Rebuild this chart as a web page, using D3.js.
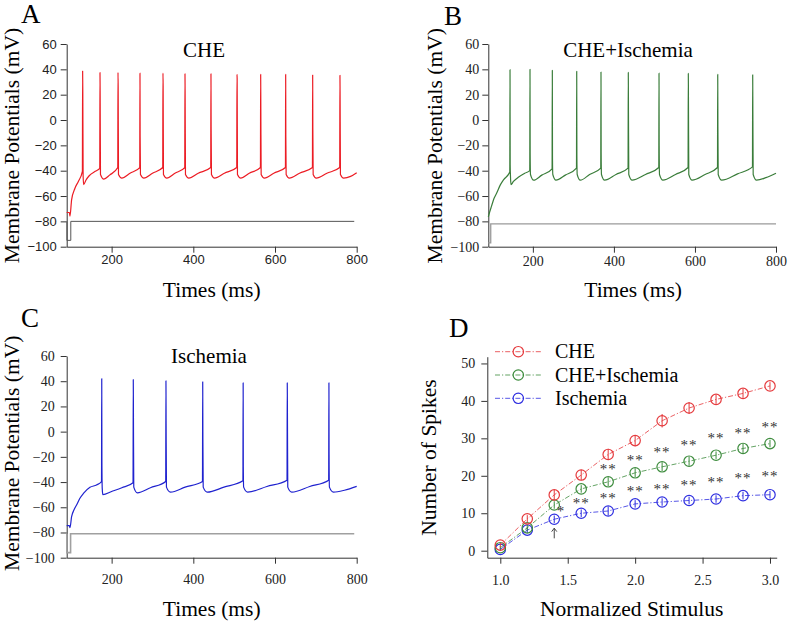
<!DOCTYPE html>
<html><head><meta charset="utf-8">
<script src="https://cdn.jsdelivr.net/npm/d3@7"></script>
<style>body{margin:0;background:#fff} svg{display:block}</style>
</head><body>
<svg id="chart" width="788" height="621"></svg>
<script>
// ================= DATA =================
// Membrane potential traces: [time (ms), voltage (mV)] waypoints
const traceCHE = [
  [90,-73],[96.5,-73],[98,-75.8],[102,-63],[110,-54],[118.5,-48.5],[128.4,-40.5],
  [129,38.7],[129.4,24],[130.2,-44],[131.5,-51],[137,-47.5],[145,-44],[160,-40.5],[170.9,-38.2],
  [171.5,37.5],[171.9,19],[172.7,-43],[181,-46.6],[195,-43.5],[215,-37.5],
  [215.6,37.5],[216,27],[216.8,-43],[225,-45.8],[245,-42],[268.8,-37.5],
  [269.4,37],[269.8,-13],[270.6,-43],[279,-45.8],[300,-42],[325.1,-37.5],
  [325.7,37],[326.1,27],[326.9,-43],[335,-45.8],[355,-42],[379,-37.5],
  [379.6,36.5],[380,17],[380.8,-43],[389,-45.8],[412,-42],[442.6,-37.5],
  [443.2,36.5],[443.6,-5],[444.4,-43],[452,-45.8],[476,-42],[506.3,-37.5],
  [506.9,36],[507.3,33],[508.1,-43],[516,-45.8],[537,-42],[564.3,-37.5],
  [564.9,36],[565.3,9],[566.1,-43],[574,-45.8],[597,-42],[625.5,-37.5],
  [626.1,36],[626.5,-13],[627.3,-43],[635,-45.8],[660,-42],[691.6,-37.5],
  [692.2,35.5],[692.6,-6],[693.4,-43],[701,-45.8],[727,-42],[758.4,-37.5],
  [759,35.3],[759.4,16],[760.2,-43],[768,-45.8],[785,-44.5],[800,-41.6]
];
const traceCHEIsch = [
  [90,-76.5],[93,-73],[98,-68],[104,-62],[111,-57.5],[120,-51],[128,-47],[143,-41],
  [143.6,39.7],[144,-35],[144.8,-45],[146,-51],[152,-48.5],[165,-45],[180,-42],[192.3,-40],
  [192.9,40],[193.3,-26],[194.1,-43],[202,-47.5],[222,-43.5],[247.4,-38.5],
  [248,39.2],[248.4,-30],[249.2,-43],[257,-47.5],[280,-43.5],[307.6,-38],
  [308.2,38.4],[308.6,-28],[309.4,-43],[317,-47.5],[340,-43],[367.5,-38],
  [368.1,37.9],[368.5,-25],[369.3,-43],[377,-47.5],[405,-43],[434.9,-38],
  [435.5,37.6],[435.9,6],[436.7,-43],[445,-47.5],[478,-43],[510.7,-37.5],
  [511.3,37],[511.7,-20],[512.5,-43],[521,-47.5],[552,-43],[583,-37.5],
  [583.6,36.8],[584,11],[584.8,-43],[593,-47.5],[625,-43],[655.6,-37.5],
  [656.2,36],[656.6,-5],[657.4,-43],[666,-47.5],[705,-42.5],[741.9,-37],
  [742.5,35.7],[742.9,7],[743.7,-43],[752,-47.5],[775,-45.5],[800,-42]
];
const traceIsch = [
  [90,-74.5],[96.5,-74.5],[98,-76.2],[102,-67.5],[108,-62],[114.5,-58],[122,-53],[131,-49],[147,-44.2],[163,-42.3],[175.2,-39.7],
  [175.8,42],[176.2,-24],[177,-45],[178.5,-50],[200,-47.5],[225,-44.5],[252.4,-40.5],
  [253,41.3],[253.4,11],[254.2,-44],[263,-48.5],[295,-44.5],[332.4,-39.5],
  [333,40.3],[333.4,6],[334.2,-44],[344,-48],[380,-44],[422.4,-39.5],
  [423,39.5],[423.4,-5],[424.2,-44],[434,-48],[475,-44],[521.4,-39],
  [522,38.7],[522.4,-28],[523.2,-44],[533,-48],[580,-43.5],[629.4,-38.5],
  [630,38.7],[630.4,15],[631.2,-44],[641,-48],[685,-43.5],[731.4,-38.5],
  [732,38.7],[732.4,-18],[733.2,-44],[743,-48],[770,-46.5],[800,-43.4]
];
// Stimulus (grey) step traces
const stimCHE = [[90.5,-80],[90.5,-95],[100,-95],[100,-80],[794,-80]];
const stimCHEIsch = [[90,-97],[96,-97],[96,-82],[800,-82]];
const stimIsch = [[90.5,-81],[90.5,-96],[99.5,-96],[99.5,-81],[794,-81]];

const timeTicks = [200, 400, 600, 800];
const voltTicks = [-100, -80, -60, -40, -20, 0, 20, 40, 60];

// Panel D: number of spikes vs normalized stimulus
const seriesNames = ["CHE", "CHE+Ischemia", "Ischemia"];
const stimulusLevels = [1.0, 1.2, 1.4, 1.6, 1.8, 2.0, 2.2, 2.4, 2.6, 2.8, 3.0];
const spikesCHE     = [1.5, 8.5, 14.9, 20.2, 25.7, 29.4, 34.7, 38.1, 40.4, 42.0, 44.0];
const spikesCHEIsch = [0.8, 6.1, 12.2, 16.5, 18.4, 20.8, 22.4, 23.9, 25.5, 27.3, 28.6];
const spikesIsch    = [0.35, 5.5, 8.4, 10.0, 10.6, 12.5, 13.0, 13.4, 13.8, 14.7, 14.95];
const errCHE     = [0.6, 1.0, 1.3, 1.4, 1.5, 1.5, 1.8, 1.6, 1.2, 1.2, 1.0];
const errCHEIsch = [0.5, 0.8, 1.0, 1.0, 1.2, 1.2, 1.2, 1.2, 1.0, 1.2, 1.0];
const errIsch    = [0.4, 0.8, 1.0, 1.0, 1.2, 1.0, 1.0, 1.0, 1.0, 1.0, 1.0];
const stimTicks = [1.0, 1.5, 2.0, 2.5, 3.0];
const spikeTicks = [0, 10, 20, 30, 40, 50];
// significance marks: [stimulus, height in spikes]
const sigUpper = [[1.8,22.4],[2.0,24.6],[2.2,26.8],[2.4,28.8],[2.6,30.5],[2.8,31.9],[3.0,33.5]];
const sigLower = [[1.6,13.3],[1.8,14.6],[2.0,16.4],[2.2,17.1],[2.4,18.1],[2.6,18.9],[2.8,20.0],[3.0,20.4]];
const sigSingle = [[1.45,11.1]];
const arrowMark = [1.4, 3.3, 6.0]; // stimulus, from, to

// ================= DRAWING =================
const SERIF = "'Liberation Serif','Times New Roman',serif";
const SANS = "'Liberation Sans',Arial,sans-serif";
const svg = d3.select("#chart");
const AX = "#333";

function styleAxis(g, family, size) {
  g.attr("font-family", family).attr("font-size", size);
  g.selectAll("path,line").attr("stroke", AX).attr("stroke-width", 1);
  g.selectAll("text").attr("fill", "#222");
}

function tracePanel(o) {
  const x = d3.scaleLinear().domain([90, 800]).range(o.xr);
  const y = d3.scaleLinear().domain([-100, 60]).range(o.yr);
  const gx = svg.append("g").attr("transform", `translate(0,${o.yr[0]})`)
    .call(d3.axisBottom(x).tickValues(timeTicks).tickSize(6).tickSizeOuter(0).tickPadding(o.xpad));
  styleAxis(gx, o.tickFont, o.tickSize);
  const gy = svg.append("g").attr("transform", `translate(${o.xr[0]},0)`)
    .call(d3.axisLeft(y).tickValues(voltTicks).tickSize(6).tickSizeOuter(0).tickPadding(o.ypad));
  styleAxis(gy, o.tickFont, o.tickSize);

  const lin = d3.line().x(d => x(d[0])).y(d => y(d[1]));
  svg.append("path").attr("d", lin(o.stim)).attr("fill", "none")
    .attr("stroke", o.stimColor).attr("stroke-width", o.stimWidth);
  const smooth = d3.line().x(d => x(d[0])).y(d => y(d[1])).curve(d3.curveMonotoneX);
  svg.append("path").attr("d", smooth(o.trace)).attr("fill", "none")
    .attr("stroke", o.color).attr("stroke-width", 1.2).attr("stroke-linejoin", "round");

  svg.append("text").attr("x", o.titleX).attr("y", o.titleY).attr("text-anchor", "middle")
    .attr("font-family", SERIF).attr("font-size", 21).text(o.title);
  svg.append("text").attr("x", (o.xr[0] + o.xr[1]) / 2 + o.xlabDx).attr("y", o.xlabY)
    .attr("text-anchor", "middle").attr("font-family", SERIF).attr("font-size", 21.5).text("Times (ms)");
  svg.append("text").attr("transform", `translate(${o.ylabX},${o.ylabY}) rotate(-90)`)
    .attr("text-anchor", "middle").attr("font-family", SERIF).attr("font-size", 21.5)
    .text("Membrane Potentials (mV)");
  svg.append("text").attr("x", o.letterX).attr("y", o.letterY)
    .attr("font-family", SERIF).attr("font-size", 27).text(o.letter);
}

tracePanel({trace: traceCHE, stim: stimCHE, color: "#ec1c24", stimColor: "#555", stimWidth: 1,
  xr: [66.7, 356.7], yr: [246.7, 44], tickFont: SANS, tickSize: 13, xpad: 2, ypad: 4,
  title: "CHE", titleX: 204, titleY: 57, xlabDx: 0, xlabY: 296.5, ylabX: 18.5, ylabY: 145.5,
  letter: "A", letterX: 21, letterY: 23});
tracePanel({trace: traceCHEIsch, stim: stimCHEIsch, color: "#3a7d3a", stimColor: "#9a9a9a", stimWidth: 1.3,
  xr: [488.3, 776], yr: [246.7, 44], tickFont: SERIF, tickSize: 14, xpad: 3, ypad: 3,
  title: "CHE+Ischemia", titleX: 628, titleY: 57.3, xlabDx: 1, xlabY: 296.5, ylabX: 441.5, ylabY: 145.8,
  letter: "B", letterX: 444, letterY: 25});
tracePanel({trace: traceIsch, stim: stimIsch, color: "#1f22cf", stimColor: "#a0a0a0", stimWidth: 1.6,
  xr: [66.7, 356.7], yr: [557.7, 356], tickFont: SERIF, tickSize: 14, xpad: 10, ypad: 6,
  title: "Ischemia", titleX: 209, titleY: 363, xlabDx: 0, xlabY: 615.5, ylabX: 18.5, ylabY: 453.3,
  letter: "C", letterX: 21, letterY: 326.7});

// ---- Panel D ----
(function () {
  const x = d3.scaleLinear().domain([0.9036, 3.0497]).range([487.3, 776.7]);
  const y = d3.scaleLinear().domain([-1.87, 51.8]).range([557.7, 356.7]);
  const gx = svg.append("g").attr("transform", `translate(0,557.7)`)
    .call(d3.axisBottom(x).tickValues(stimTicks).tickFormat(d3.format(".1f")).tickSize(6).tickSizeOuter(0).tickPadding(11));
  styleAxis(gx, SERIF, 14);
  const gy = svg.append("g").attr("transform", `translate(487.3,0)`)
    .call(d3.axisLeft(y).tickValues(spikeTicks).tickSize(6).tickSizeOuter(0).tickPadding(6));
  styleAxis(gy, SERIF, 14);

  const colors = ["#e53a3d", "#3d8c3d", "#2d2de0"];
  const series = [spikesCHE, spikesCHEIsch, spikesIsch];
  const errs = [errCHE, errCHEIsch, errIsch];
  const dash = "5,2,1.2,2";
  const line = d3.line().x(d => x(d[0])).y(d => y(d[1]));

  [2, 1, 0].forEach(i => {
    const pts = stimulusLevels.map((s, k) => [s, series[i][k], errs[i][k]]);
    const g = svg.append("g");
    g.append("path").attr("d", line(pts)).attr("fill", "none").attr("stroke", colors[i])
      .attr("stroke-opacity", 0.8).attr("stroke-width", 1).attr("stroke-dasharray", dash);
    g.selectAll("line.err").data(pts).join("line").attr("class", "err")
      .attr("x1", d => x(d[0])).attr("x2", d => x(d[0]))
      .attr("y1", d => y(d[1] - d[2])).attr("y2", d => y(d[1] + d[2]))
      .attr("stroke", colors[i]).attr("stroke-width", 1);
    g.selectAll("circle").data(pts).join("circle")
      .attr("cx", d => x(d[0])).attr("cy", d => y(d[1])).attr("r", 5.2)
      .attr("fill", "none").attr("stroke", colors[i]).attr("stroke-width", 1.2);
  });

  const starFs = 15;
  const stars = sigUpper.map(d => [d[0], d[1], "**"])
    .concat(sigLower.map(d => [d[0], d[1], "**"]))
    .concat(sigSingle.map(d => [d[0], d[1], "*"]));
  svg.append("g").selectAll("text").data(stars).join("text")
    .attr("x", d => x(d[0])).attr("y", d => y(d[1]) + starFs * 0.46)
    .attr("text-anchor", "middle").attr("font-family", SERIF).attr("font-size", starFs)
    .attr("letter-spacing", 1).attr("fill", "#333").text(d => d[2]);

  const ax = x(arrowMark[0]), ay0 = y(arrowMark[1]), ay1 = y(arrowMark[2]);
  svg.append("path").attr("d", `M${ax},${ay0}L${ax},${ay1}M${ax - 2.6},${ay1 + 3.4}L${ax},${ay1}L${ax + 2.6},${ay1 + 3.4}`)
    .attr("fill", "none").attr("stroke", "#333").attr("stroke-width", 0.9);

  const lg = svg.append("g");
  seriesNames.forEach((name, i) => {
    const cy = 351.7 + i * 23.3;
    lg.append("line").attr("x1", 495).attr("x2", 541).attr("y1", cy).attr("y2", cy)
      .attr("stroke", colors[i]).attr("stroke-opacity", 0.8).attr("stroke-dasharray", dash);
    lg.append("circle").attr("cx", 518.3).attr("cy", cy).attr("r", 5.2)
      .attr("fill", "none").attr("stroke", colors[i]).attr("stroke-width", 1.2);
    lg.append("text").attr("x", 555).attr("y", cy + 6.6).attr("font-family", SERIF)
      .attr("font-size", 20).text(name);
  });

  svg.append("text").attr("x", 631.7).attr("y", 616).attr("text-anchor", "middle")
    .attr("font-family", SERIF).attr("font-size", 21.5).text("Normalized Stimulus");
  svg.append("text").attr("transform", `translate(436,457.5) rotate(-90)`).attr("text-anchor", "middle")
    .attr("font-family", SERIF).attr("font-size", 21.5).text("Number of Spikes");
  svg.append("text").attr("x", 449).attr("y", 337.3).attr("font-family", SERIF).attr("font-size", 27).text("D");
})();
</script>
</body></html>
